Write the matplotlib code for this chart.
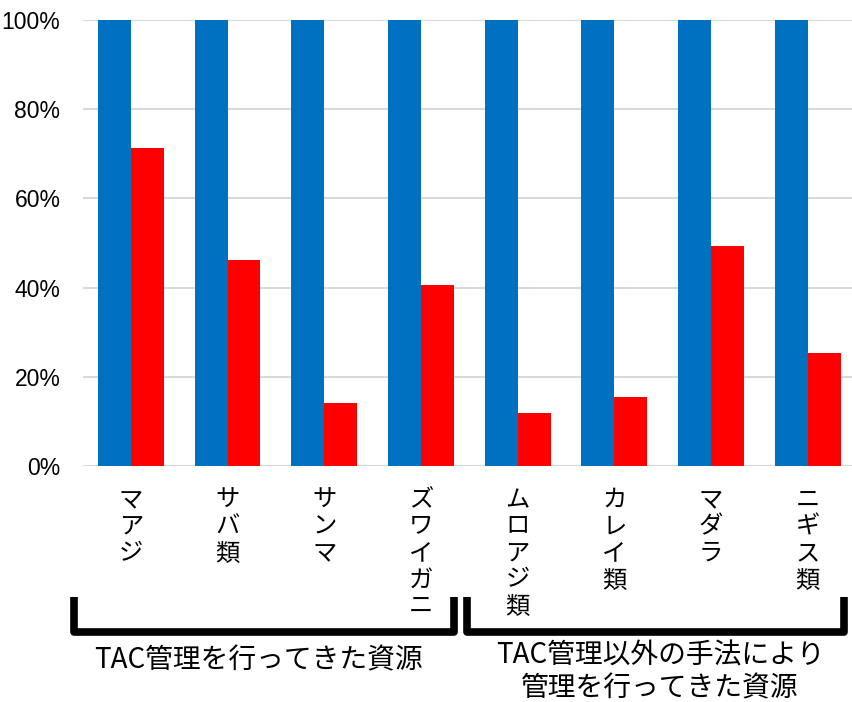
import matplotlib
matplotlib.use("Agg")
import matplotlib.pyplot as plt
from matplotlib.lines import Line2D
from matplotlib.ticker import PercentFormatter
import numpy as np

plt.rcParams['font.family'] = ['Noto Sans CJK JP', 'DejaVu Sans']

# data
species = ['マアジ', 'サバ類', 'サンマ', 'ズワイガニ',
           'ムロアジ類', 'カレイ類', 'マダラ', 'ニギス類']
blue_vals = [100, 100, 100, 100, 100, 100, 100, 100]
red_vals = [71.2, 46.2, 14.2, 40.6, 11.9, 15.5, 49.3, 25.3]
group_labels = ['TAC管理を行ってきた資源',
                'TAC管理以外の手法により\n管理を行ってきた資源']

W, H = 852, 702
fig = plt.figure(figsize=(W / 100, H / 100), dpi=100)
ax = fig.add_axes([82.6 / W, 1 - 466 / H, (856 - 82.6) / W, (466 - 20) / H])

x = np.arange(len(species))
bw = 0.34
ax.bar(x - bw / 2, blue_vals, bw, color='#0070C0', zorder=3)
ax.bar(x + bw / 2, red_vals, bw, color='#FF0000', zorder=3)

ax.set_xlim(-0.5, len(species) - 0.5)
ax.set_ylim(0, 100)
ax.set_yticks(range(0, 101, 20))
ax.yaxis.set_major_formatter(PercentFormatter(decimals=0))
ax.yaxis.grid(True, color='#D9D9D9', lw=1.5, zorder=0)
for s in ax.spines.values():
    s.set_visible(False)
ax.tick_params(axis='y', length=0, labelsize=16.5, pad=16)
ax.tick_params(axis='x', length=0)
ax.set_xticks([])
for lab in ax.get_yticklabels():
    lab.set_family(['Liberation Sans', 'DejaVu Sans'])

# vertical category labels (stacked characters)
for i, name in enumerate(species):
    ax.annotate('\n'.join(name), xy=(i, 0), xycoords='data',
                xytext=(0, -15), textcoords='offset points',
                ha='center', va='top', fontsize=17.5, linespacing=1.03)

# brackets under the two groups
def bracket(x0, x1):
    y_top = 1 - 597 / H
    y_bot = 1 - 632 / H
    xs = [x0 / W, x0 / W, x1 / W, x1 / W]
    ys = [y_top, y_bot, y_bot, y_top]
    fig.add_artist(Line2D(xs, ys, transform=fig.transFigure, color='black',
                          lw=5.5, solid_joinstyle='round', solid_capstyle='butt'))

bracket(74, 454)
bracket(467, 844)

fig.text(258 / W, 1 - 660 / H, group_labels[0], ha='center', va='center',
         fontsize=20)
fig.text(660 / W, 1 - 672 / H, group_labels[1], ha='center', va='center',
         fontsize=20, linespacing=1.1)

fig.savefig('out.png', dpi=100)
